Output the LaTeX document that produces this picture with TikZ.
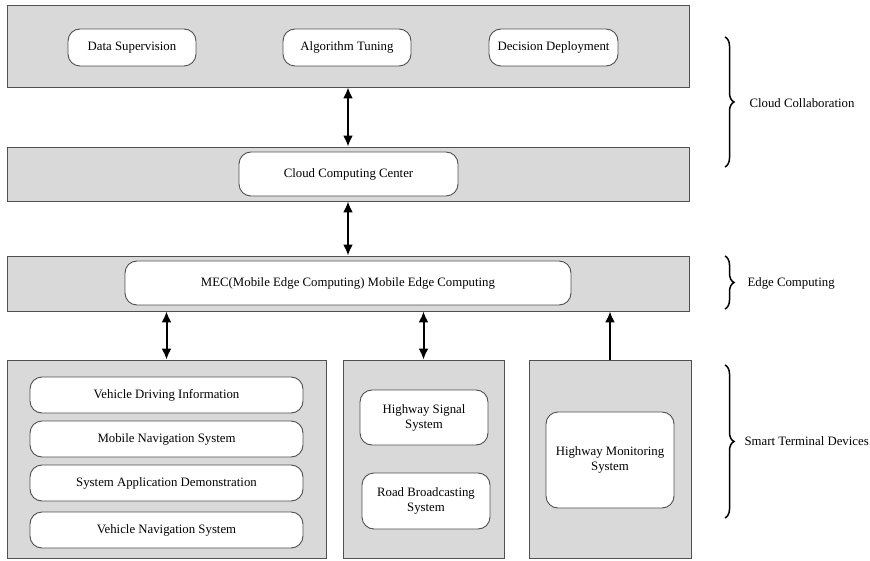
\documentclass[tikz,border=0pt]{standalone}
\usepackage{fontspec}
\setmainfont{Liberation Serif}
\usetikzlibrary{arrows.meta, decorations.pathreplacing}
\definecolor{bandgray}{HTML}{D9D9D9}
\definecolor{linegray}{HTML}{505050}

\begin{document}
\begin{tikzpicture}[
        x=1pt, y=-1pt,
        font=\fontsize{12.8}{15}\selectfont,
        band/.style={rectangle, draw=linegray, fill=bandgray, line width=0.9pt, inner sep=0pt},
        pill/.style={rectangle, rounded corners=12pt, draw=linegray, fill=white, line width=0.9pt, align=center, inner sep=0pt},
        arrow/.style={-{Latex[length=11pt, width=10pt]}, line width=2pt},
        twoway/.style={{Latex[length=11pt, width=10pt]}-{Latex[length=11pt, width=10pt]}, line width=2pt},
        bracket/.style={decorate, decoration={brace, amplitude=9pt}, line width=1.5pt}
    ]
        \useasboundingbox (0,0) rectangle (870,561);

        % Cloud layers
        \node[band, minimum width=682pt, minimum height=82pt] (topband) at (348, 46) {};
        \node[pill, minimum width=128pt, minimum height=37pt] (datasup) at (132, 47.5) {Data Supervision};
        \node[pill, minimum width=128pt, minimum height=37pt] (algtune) at (347, 47.5) {Algorithm Tuning};
        \node[pill, minimum width=129pt, minimum height=37pt] (decdeploy) at (553.5, 47.5) {Decision Deployment};

        \node[band, minimum width=682pt, minimum height=54pt] (cloudband) at (348, 174) {};
        \node[pill, minimum width=219pt, minimum height=44pt] (ccc) at (348.5, 174) {Cloud Computing Center};

        % Edge layer
        \node[band, minimum width=682pt, minimum height=55pt] (edgeband) at (348, 283.5) {};
        \node[pill, minimum width=446pt, minimum height=44pt] (mec) at (348, 283) {MEC(Mobile Edge Computing) Mobile Edge Computing};

        % Terminal devices
        \node[band, minimum width=319pt, minimum height=198pt] (vehiclebox) at (166.5, 459) {};
        \node[band, minimum width=161pt, minimum height=198pt] (roadbox) at (423.5, 459) {};
        \node[band, minimum width=162pt, minimum height=198pt] (monitorbox) at (610, 459) {};

        \node[pill, minimum width=273pt, minimum height=36pt] (vdi) at (166.5, 395) {Vehicle Driving Information};
        \node[pill, minimum width=273pt, minimum height=36pt] (mns) at (166.5, 439) {Mobile Navigation System};
        \node[pill, minimum width=273pt, minimum height=36pt] (sad) at (166.5, 483) {System Application Demonstration};
        \node[pill, minimum width=273pt, minimum height=36pt] (vns) at (166.5, 530) {Vehicle Navigation System};

        \node[pill, minimum width=128pt, minimum height=55pt] (hss) at (424, 417.5) {Highway Signal\\System};
        \node[pill, minimum width=128pt, minimum height=56pt] (rbs) at (426, 501) {Road Broadcasting\\System};
        \node[pill, minimum width=128pt, minimum height=96pt] (hms) at (610, 460) {Highway Monitoring\\System};

        % Arrows between layers
        \draw[twoway] (topband) -- (cloudband);
        \draw[twoway] (cloudband) -- (edgeband);
        \draw[twoway] (vehiclebox.north) -- (vehiclebox.north |- edgeband.south);
        \draw[twoway] (roadbox.north) -- (roadbox.north |- edgeband.south);
        \draw[arrow] (monitorbox.north) -- (monitorbox.north |- edgeband.south);

        % Side braces
        \coordinate (cloudtop) at (725, 37);
        \coordinate (cloudbot) at (725, 167);
        \coordinate (edgetop) at (725, 256);
        \coordinate (edgebot) at (725, 309);
        \coordinate (termtop) at (725, 365);
        \coordinate (termbot) at (725, 518);
        \draw[bracket] (cloudtop) -- (cloudbot);
        \draw[bracket] (edgetop) -- (edgebot);
        \draw[bracket] (termtop) -- (termbot);

        \node[anchor=west] (cloudlabel) at (746, 103) {Cloud Collaboration};
        \node[anchor=west] (edgelabel) at (744, 283) {Edge Computing};
        \node[anchor=west] (termlabel) at (741, 441) {Smart Terminal Devices};
    \end{tikzpicture}
\end{document}
